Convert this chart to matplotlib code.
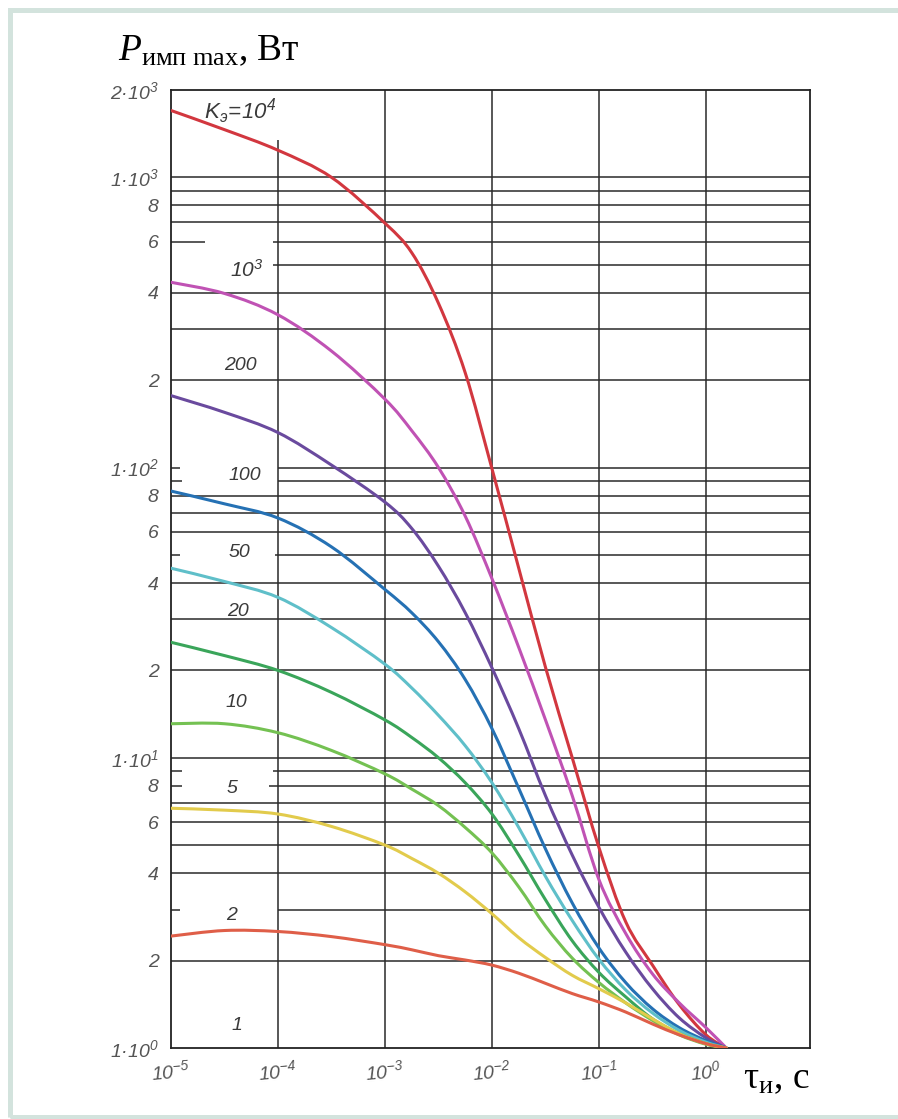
import numpy as np
import matplotlib.pyplot as plt
from matplotlib.patches import Rectangle, PathPatch
from matplotlib.path import Path

plt.rcParams['mathtext.fontset'] = 'custom'
plt.rcParams['mathtext.rm'] = 'Liberation Serif'
plt.rcParams['mathtext.it'] = 'Liberation Serif:italic'
plt.rcParams['mathtext.sf'] = 'Liberation Sans:italic'

# pulse duration, s (log10 values read along the grid)
log_tau = [-5, -4.5, -4, -3.5, -3, -2.75, -2.5, -2.25, -2, -1.75,
           -1.5, -1.25, -1, -0.75, -0.5, -0.25, 0, 0.19]
tau = 10.0 ** np.array(log_tau)

# max pulse power, W, for each K_э
p_k10000 = [1700, 1460, 1240, 1000, 695, 550, 368, 212, 99, 45,
            20.5, 10.0, 4.9, 2.72, 1.93, 1.41, 1.11, 1.0]
p_k1000 = [435, 398, 336, 252, 172, 134, 100, 68, 41.4, 24,
           13.5, 7.4, 3.8, 2.48, 1.80, 1.43, 1.175, 1.0]
p_k200 = [177, 155, 132, 102, 76, 61.7, 45.7, 31.6, 20.4, 12.6,
          7.4, 4.62, 3.05, 2.14, 1.60, 1.27, 1.084, 1.0]
p_k100 = [83, 75, 67, 53.3, 38, 31.6, 25.1, 18.6, 12.6, 7.85,
          4.85, 3.16, 2.21, 1.68, 1.365, 1.175, 1.06, 1.0]
p_k50 = [45, 40.5, 35.7, 28.1, 21, 17.4, 14.0, 11.0, 8.2, 5.75,
         3.9, 2.75, 2.02, 1.585, 1.32, 1.15, 1.047, 1.0]
p_k20 = [25, 22.5, 20, 16.8, 13.5, 11.75, 10, 8.2, 6.4, 4.62,
         3.24, 2.34, 1.82, 1.50, 1.26, 1.12, 1.035, 1.0]
p_k10 = [13.1, 13.1, 12.2, 10.6, 8.8, 7.8, 6.84, 5.75, 4.7, 3.59,
         2.63, 2.04, 1.68, 1.43, 1.245, 1.11, 1.03, 1.0]
p_k5 = [6.7, 6.6, 6.4, 5.8, 5.0, 4.5, 4.0, 3.45, 2.9, 2.4,
        2.05, 1.78, 1.60, 1.43, 1.26, 1.12, 1.035, 1.0]
p_k2 = [2.43, 2.54, 2.52, 2.42, 2.27, 2.18, 2.08, 2.01, 1.93, 1.81,
        1.67, 1.54, 1.44, 1.33, 1.21, 1.11, 1.035, 1.0]

series = [p_k10000, p_k1000, p_k200, p_k100, p_k50, p_k20, p_k10, p_k5, p_k2]
colors = ['#d2373f', '#c052b4', '#6a4a9e', '#2571b4', '#5fbfc9',
          '#3aa55a', '#74c152', '#e2cb4c', '#df5e48']

# curve labels and where they sit (tau, P)
curve_labels = [r'$\mathsf{K_{э}\!=\!10^{4}}$', r'$\mathsf{10^{3}}$', '200', '100',
                '50', '20', '10', '5', '2', '1']
label_tau = [10**-4.35, 10**-4.29, 10**-4.35, 10**-4.31, 10**-4.36,
             10**-4.37, 10**-4.39, 10**-4.43, 10**-4.43, 10**-4.38]
label_p = [1690, 480, 225, 94, 50.8, 31.8, 15.5, 7.85, 2.85, 1.2]
label_size = [16, 15, 14, 14, 14, 14, 14, 14, 14, 14]

y_ticks = [1, 2, 4, 6, 8, 10, 20, 40, 60, 80, 100, 200, 400, 600, 800, 1000, 2000]
y_tick_labels = [r'$\mathsf{1·10^{0}}$', '2', '4', '6', '8',
                 r'$\mathsf{1·10^{1}}$', '2', '4', '6', '8',
                 r'$\mathsf{1·10^{2}}$', '2', '4', '6', '8',
                 r'$\mathsf{1·10^{3}}$', r'$\mathsf{2·10^{3}}$']
x_ticks = [1e-5, 1e-4, 1e-3, 1e-2, 1e-1, 1e0]
x_tick_labels = [r'$\mathsf{10^{-5}}$', r'$\mathsf{10^{-4}}$', r'$\mathsf{10^{-3}}$',
                 r'$\mathsf{10^{-2}}$', r'$\mathsf{10^{-1}}$', r'$\mathsf{10^{0}}$']

# horizontal grid: full lines, and lines that start further right
grid_full = [2, 4, 5, 6, 7, 10, 20, 30, 40, 60, 70, 80,
             200, 300, 400, 700, 800, 900, 1000]
grid_part = [3, 8, 9, 50, 90, 100, 500, 600]


def smooth_path(x, y):
    # cubic Bezier segments through the read points, built in log-log space
    pts = np.column_stack([np.log10(x), np.log10(y)])
    n = len(pts)
    verts = [pts[0]]
    codes = [Path.MOVETO]
    for i in range(n - 1):
        p0 = pts[max(i - 1, 0)]
        p1 = pts[i]
        p2 = pts[i + 1]
        p3 = pts[min(i + 2, n - 1)]
        verts += [p1 + (p2 - p0) / 6, p2 - (p3 - p1) / 6, p2]
        codes += [Path.CURVE4] * 3
    return Path(10.0 ** np.array(verts), codes)


fig = plt.figure(figsize=(8.98, 11.19), dpi=100)
ax = fig.add_axes([171 / 898, 1 - 1048 / 1119, 639 / 898, 958 / 1119])
ax.set_xscale('log')
ax.set_yscale('log')
x_left, x_right = 1e-5, 10**0.972
ax.set_xlim(x_left, x_right)
ax.set_ylim(1, 2000)

gc = '#2a2a2a'
glw = 1.1
for v in grid_full:
    ax.hlines(v, x_left, x_right, color=gc, lw=glw, zorder=1)
part_start = {3: 1e-4, 8: 10**-4.08, 9: 10**-4.05, 50: 10**-4.03,
              90: 1e-4, 100: 1e-4, 500: 10**-4.05, 600: 10**-4.05}
stub_end = {3: 10**-4.92, 8: 10**-4.9, 9: 10**-4.9, 50: 10**-4.92,
            90: 10**-4.9, 100: 10**-4.92, 600: 10**-4.68}
for v in grid_part:
    ax.hlines(v, part_start[v], x_right, color=gc, lw=glw, zorder=1)
    if v in stub_end:
        ax.hlines(v, x_left, stub_end[v], color=gc, lw=glw, zorder=1)
ax.vlines(1e-4, 1, 1350, color=gc, lw=glw, zorder=1)
for v in [1e-3, 1e-2, 1e-1, 1e0]:
    ax.vlines(v, 1, 2000, color=gc, lw=glw, zorder=1)

for p, c in zip(series, colors):
    ax.add_patch(PathPatch(smooth_path(tau, p), fill=False, edgecolor=c,
                           lw=2.2, capstyle='round', zorder=3))

for t, x, y, s in zip(curve_labels, label_tau, label_p, label_size):
    ax.text(x, y, t, fontsize=s, color='#3a3a3a', ha='center', va='center',
            family='Liberation Sans', style='italic', zorder=4)

ax.minorticks_off()
ax.set_yticks(y_ticks)
ax.set_yticklabels(y_tick_labels)
ax.set_xticks(x_ticks)
ax.set_xticklabels(x_tick_labels)
ax.tick_params(axis='both', length=0, labelsize=14, labelcolor='#555555')
ax.tick_params(axis='y', pad=9)
ax.tick_params(axis='x', pad=8)
for lab in ax.get_yticklabels() + ax.get_xticklabels():
    lab.set_family('Liberation Sans')
    lab.set_style('italic')
for lab in ax.get_xticklabels():
    lab.set_rotation(5)
for s in ax.spines.values():
    s.set_color('#222222')
    s.set_linewidth(1.3)

fig.text(118 / 898, 1 - 60 / 1119, r'$\mathit{P}_{\mathrm{имп\ max}}$, Вт',
         fontsize=27, family='Liberation Serif', va='baseline', ha='left')
fig.text(743 / 898, 1 - 1088 / 1119, r'τ$_{\mathrm{и}}$, с',
         fontsize=27, family='Liberation Serif', va='baseline', ha='left')

# light frame around the picture
fig.add_artist(Rectangle((9.5 / 898, 1 - 1117 / 1119), 1.2, (1117 - 9.5) / 1119,
                         transform=fig.transFigure, fill=False,
                         edgecolor='#d3e3dd', lw=3.6))

fig.savefig('out.png', dpi=100, facecolor='white')
